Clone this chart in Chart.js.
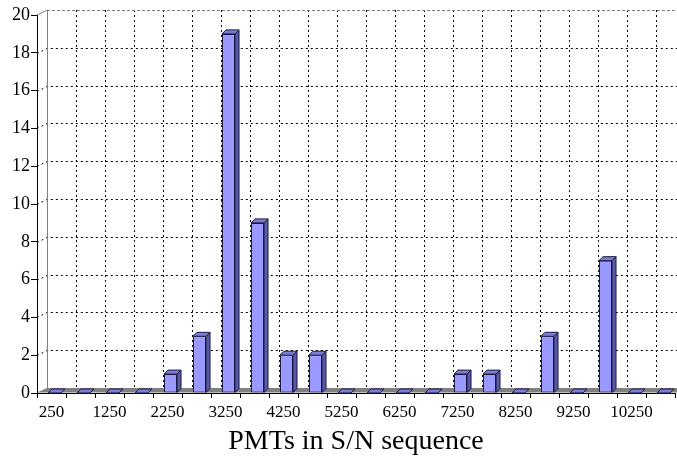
<!DOCTYPE html>
<html>
<head>
<meta charset="utf-8">
<script src="https://cdn.jsdelivr.net/npm/chart.js@4"></script>
<style>
  body { margin: 0; background: #fff; }
  #wrap { width: 677px; height: 459px; }
</style>
</head>
<body>
<div id="wrap"><canvas id="pmtChart" width="677" height="459"></canvas></div>
<script>
// S/N bins (every other one is labelled on the axis)
const categories = ['250', '750', '1250', '1750', '2250', '2750', '3250', '3750', '4250', '4750', '5250',
                    '5750', '6250', '6750', '7250', '7750', '8250', '8750', '9250', '9750', '10250', '10750'];
const counts = [0, 0, 0, 0, 1, 3, 19, 9, 2, 2, 0, 0, 0, 0, 1, 1, 0, 3, 0, 7, 0, 0];
const yMax = 20;
const yStep = 2;

const serif = "'Liberation Serif', 'Times New Roman', serif";
const depth = 4;       // bar extrusion
const barShift = 3;    // front face sits a bit right of the category centre
const wallDx = 10;     // back wall shift
const wallDy = 5;

function poly(ctx, pts, fill) {
    ctx.beginPath();
    ctx.moveTo(pts[0][0], pts[0][1]);
    for (let i = 1; i < pts.length; i++) ctx.lineTo(pts[i][0], pts[i][1]);
    ctx.closePath();
    ctx.fillStyle = fill;
    ctx.fill();
    ctx.stroke();
}

const pseudo3d = {
    id: 'pseudo3d',
    beforeDatasetsDraw(chart) {
        const { ctx, chartArea: a, scales: { x, y } } = chart;
        const wl = a.left + wallDx, wt = a.top - wallDy, wb = a.bottom - wallDy;
        ctx.save();
        ctx.lineWidth = 1;

        // dotted grid on the back wall
        ctx.strokeStyle = '#000';
        ctx.setLineDash([2, 3]);
        y.ticks.forEach(t => {
            if (t.value <= 0 || t.value >= yMax) return;
            const py = Math.round(y.getPixelForValue(t.value)) + 0.5;
            ctx.beginPath();
            ctx.moveTo(a.left, py);
            ctx.lineTo(wl, py - wallDy);
            ctx.lineTo(chart.width, py - wallDy);
            ctx.stroke();
        });
        for (let i = 1; i <= categories.length; i++) {
            const px = Math.round(x.getPixelForValue(i - 0.5)) + wallDx + 0.5;
            ctx.beginPath();
            ctx.moveTo(px, wt);
            ctx.lineTo(px, wb);
            ctx.stroke();
        }

        // top edge of wall
        ctx.strokeStyle = '#808080';
        ctx.setLineDash([3, 2]);
        ctx.beginPath();
        ctx.moveTo(wl, wt + 0.5);
        ctx.lineTo(chart.width, wt + 0.5);
        ctx.stroke();

        // left wall edges
        ctx.setLineDash([]);
        ctx.beginPath();
        ctx.moveTo(a.left, a.top);
        ctx.lineTo(wl + 0.5, wt);
        ctx.lineTo(wl + 0.5, wb);
        ctx.stroke();

        // floor
        ctx.fillStyle = '#808080';
        ctx.beginPath();
        ctx.moveTo(a.left, a.bottom - 0.5);
        ctx.lineTo(wl, wb);
        ctx.lineTo(chart.width, wb);
        ctx.lineTo(chart.width, a.bottom - 0.5);
        ctx.closePath();
        ctx.fill();
        ctx.restore();
    },
    beforeDatasetDraw(chart) {
        chart.ctx.save();
        chart.ctx.translate(barShift, 0);
    },
    afterDatasetDraw(chart) {
        const { ctx } = chart;
        ctx.lineWidth = 1;
        ctx.strokeStyle = '#1a1a40';
        chart.getDatasetMeta(0).data.forEach(bar => {
            const { x: cx, y: top, width: w, base } = bar.getProps(['x', 'y', 'width', 'base'], true);
            const l = cx - w / 2, r = cx + w / 2;
            if (base - top > 0.5) {
                poly(ctx, [[r, top], [r + depth, top - depth], [r + depth, base - depth], [r, base]], '#5a5aa8');
            }
            poly(ctx, [[l, top], [l + depth, top - depth], [r + depth, top - depth], [r, top]], '#7c7cd6');
        });
        ctx.restore();
    }
};

new Chart(document.getElementById('pmtChart'), {
    type: 'bar',
    data: {
        labels: categories,
        datasets: [{
            data: counts,
            backgroundColor: '#9999ff',
            borderColor: '#1a1a40',
            borderWidth: 1,
            borderSkipped: false,
            barPercentage: 0.45,
            categoryPercentage: 1
        }]
    },
    options: {
        responsive: false,
        animation: false,
        layout: { padding: { top: 15, right: 2, left: 0, bottom: 0 } },
        plugins: { legend: { display: false }, tooltip: { enabled: false } },
        scales: {
            x: {
                afterFit: s => { s.height = 66; },
                border: { display: true, color: '#000', width: 1 },
                grid: { offset: true, drawOnChartArea: false, drawTicks: true, tickLength: 5, color: '#000' },
                ticks: {
                    autoSkip: false,
                    maxRotation: 0,
                    padding: 4,
                    color: '#000',
                    font: { family: serif, size: 17 },
                    callback: (v, i) => (i % 2 === 0 ? categories[i] : '')
                },
                title: {
                    display: true,
                    text: 'PMTs in S/N sequence',
                    color: '#000',
                    font: { family: serif, size: 28 },
                    padding: { top: 0, bottom: 1 }
                }
            },
            y: {
                min: 0,
                max: yMax,
                afterFit: s => { s.width = 37; },
                border: { display: true, color: '#000', width: 1 },
                grid: { drawOnChartArea: false, drawTicks: true, tickLength: 6, color: '#000' },
                ticks: {
                    stepSize: yStep,
                    padding: 1,
                    color: '#000',
                    font: { family: serif, size: 18 }
                }
            }
        }
    },
    plugins: [pseudo3d]
});
</script>
</body>
</html>
